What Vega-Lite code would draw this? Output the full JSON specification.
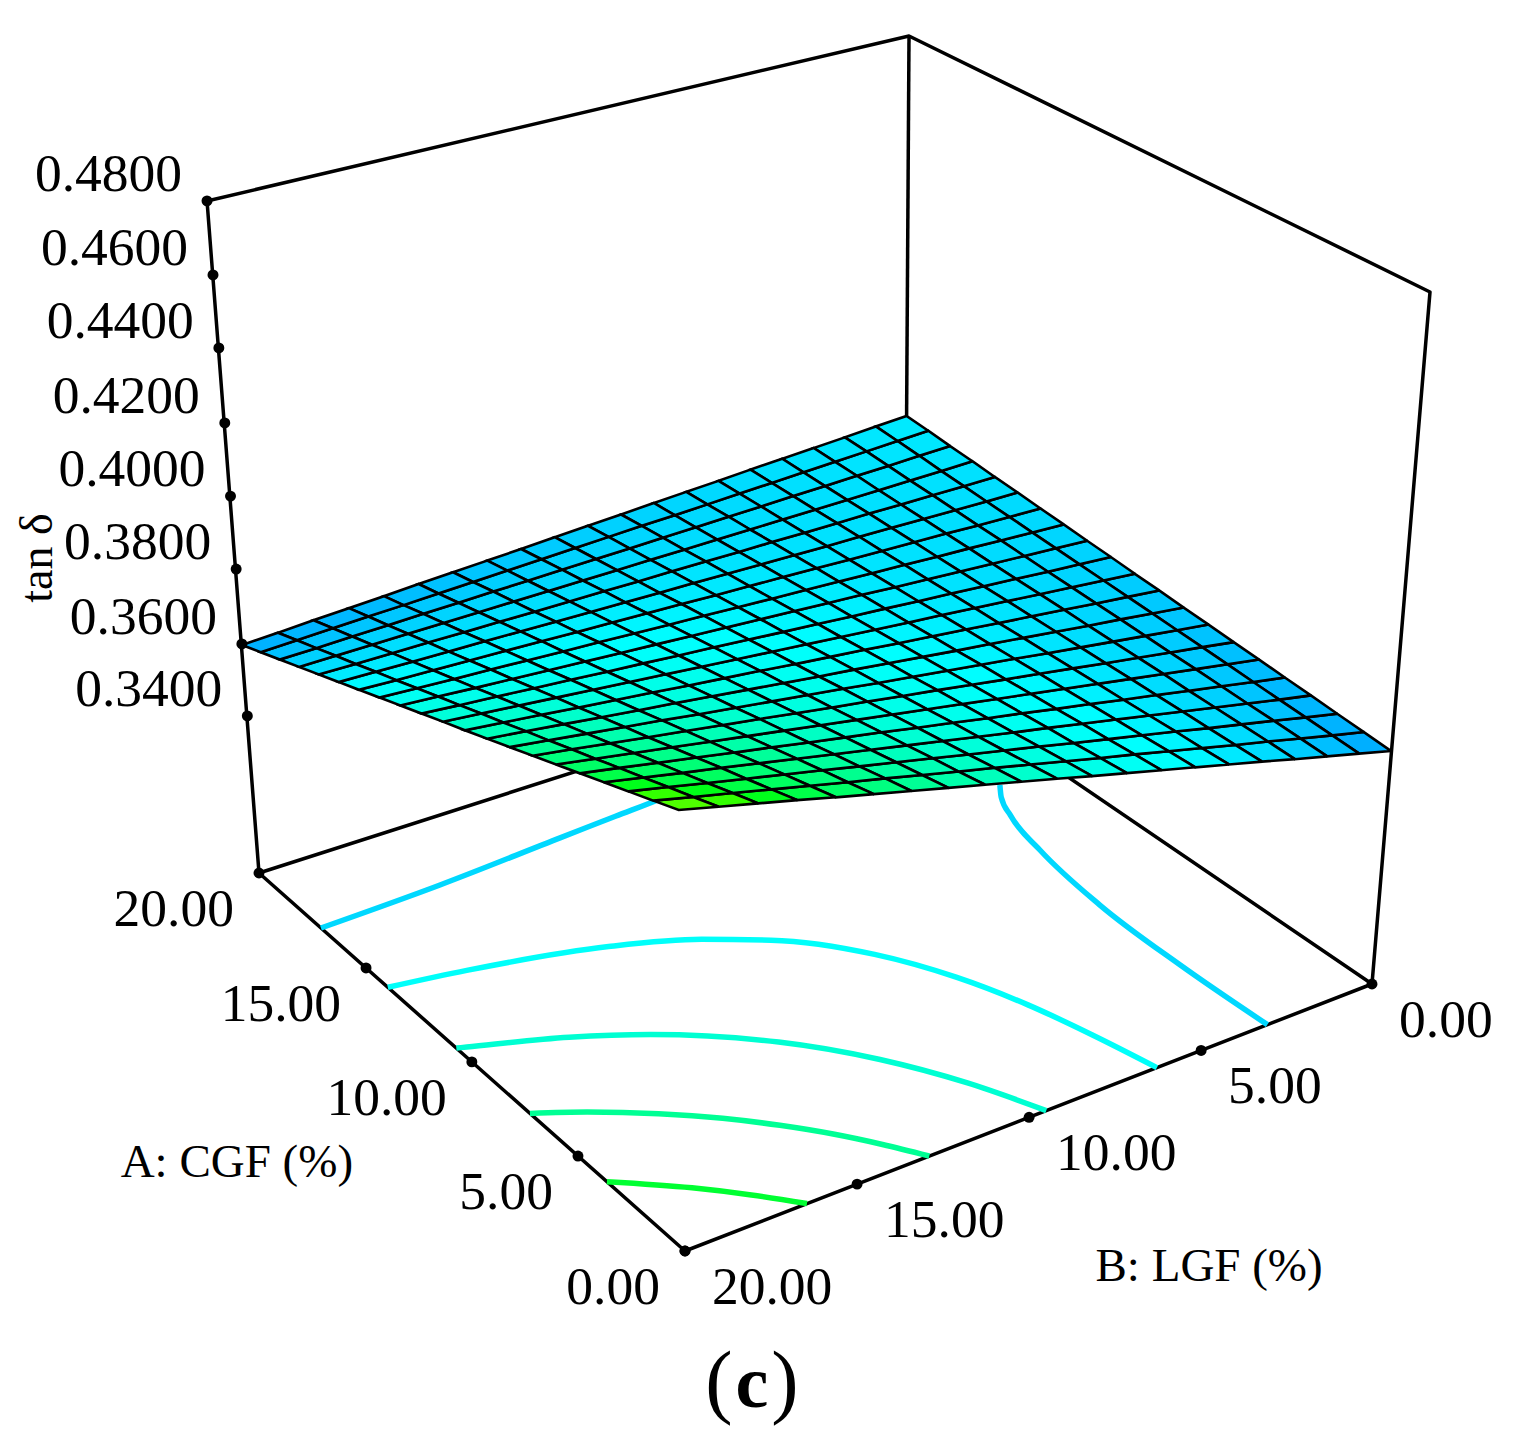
{"$schema":"https://vega.github.io/schema/vega-lite/v6.json","width":1528,"height":1451,"autosize":{"type":"fit","contains":"padding"},"padding":0,"background":"#ffffff","config":{"view":{"stroke":null},"text":{"font":"Liberation Serif"}},
"datasets":{
"frame":[{"s":"m","i":0,"A":20,"B":20,"t":0.2956},{"s":"m","i":1,"A":0,"B":20,"t":0.2956},{"s":"m","i":2,"A":0,"B":0,"t":0.2956},{"s":"m","i":3,"A":0,"B":0,"t":0.48},{"s":"m","i":4,"A":20,"B":0,"t":0.48},{"s":"m","i":5,"A":20,"B":20,"t":0.48},{"s":"m","i":6,"A":20,"B":20,"t":0.2956},{"s":"m","i":7,"A":20,"B":0,"t":0.2956},{"s":"m","i":8,"A":0,"B":0,"t":0.2956},{"s":"v","i":0,"A":20,"B":0,"t":0.2956},{"s":"v","i":1,"A":20,"B":0,"t":0.48}],
"contours":[
{"id":"c1r","t":0.367,"A":0,"B":3.3},{"id":"c1r","t":0.367,"A":3.35,"B":3.36},{"id":"c1r","t":0.367,"A":6.76,"B":3.27},{"id":"c1r","t":0.367,"A":9.82,"B":2.89},{"id":"c1r","t":0.367,"A":11.7,"B":2.46},{"id":"c1r","t":0.367,"A":12.6,"B":2.1},{"id":"c1r","t":0.367,"A":13.14,"B":1.75},
{"id":"c1l","t":0.367,"A":16.76,"B":20},{"id":"c1l","t":0.367,"A":16.92,"B":16.51},{"id":"c1l","t":0.367,"A":17.25,"B":12.77},{"id":"c1l","t":0.367,"A":17.4,"B":11},{"id":"c1l","t":0.367,"A":17.54,"B":9.4},{"id":"c1l","t":0.367,"A":17.8,"B":8},
{"id":"c2","t":0.3749,"A":0,"B":6.68},{"id":"c2","t":0.3749,"A":2,"B":7.08},{"id":"c2","t":0.3749,"A":4,"B":7.57},{"id":"c2","t":0.3749,"A":6,"B":8.27},{"id":"c2","t":0.3749,"A":8,"B":9.32},{"id":"c2","t":0.3749,"A":10,"B":11.07},{"id":"c2","t":0.3749,"A":11,"B":12.47},{"id":"c2","t":0.3749,"A":12,"B":14.56},{"id":"c2","t":0.3749,"A":13,"B":18.02},{"id":"c2","t":0.3749,"A":13.4,"B":20},
{"id":"c3","t":0.3825,"A":0,"B":9.96},{"id":"c3","t":0.3825,"A":2,"B":10.8},{"id":"c3","t":0.3825,"A":4,"B":11.93},{"id":"c3","t":0.3825,"A":6,"B":13.5},{"id":"c3","t":0.3825,"A":8,"B":15.85},{"id":"c3","t":0.3825,"A":9,"B":17.53},{"id":"c3","t":0.3825,"A":10,"B":19.77},{"id":"c3","t":0.3825,"A":10.1,"B":20},
{"id":"c4","t":0.3902,"A":0,"B":13.32},{"id":"c4","t":0.3902,"A":1,"B":13.94},{"id":"c4","t":0.3902,"A":2,"B":14.64},{"id":"c4","t":0.3902,"A":3,"B":15.46},{"id":"c4","t":0.3902,"A":4,"B":16.4},{"id":"c4","t":0.3902,"A":5,"B":17.53},{"id":"c4","t":0.3902,"A":6,"B":18.87},{"id":"c4","t":0.3902,"A":6.7,"B":20},
{"id":"c5","t":0.3981,"A":0,"B":16.72},{"id":"c5","t":0.3981,"A":1,"B":17.57},{"id":"c5","t":0.3981,"A":2,"B":18.53},{"id":"c5","t":0.3981,"A":3.3,"B":20}],
"ticks":[
{"axis":"A","label":"0.00","A":0,"B":20,"t":0.2956},{"axis":"A","label":"5.00","A":4.56,"B":20,"t":0.2956},{"axis":"A","label":"10.00","A":9.37,"B":20,"t":0.2956},{"axis":"A","label":"15.00","A":14.48,"B":20,"t":0.2956},{"axis":"A","label":"20.00","A":20,"B":20,"t":0.2956},
{"axis":"B","label":"0.00","A":0,"B":0,"t":0.2956},{"axis":"B","label":"5.00","A":0,"B":5.34,"t":0.2956},{"axis":"B","label":"10.00","A":0,"B":10.46,"t":0.2956},{"axis":"B","label":"15.00","A":0,"B":15.34,"t":0.2956},{"axis":"B","label":"20.00","A":0,"B":20,"t":0.2956},
{"axis":"z","label":"0.3400","A":20,"B":20,"t":0.34},{"axis":"z","label":"0.3600","A":20,"B":20,"t":0.3601},{"axis":"z","label":"0.3800","A":20,"B":20,"t":0.3808},{"axis":"z","label":"0.4000","A":20,"B":20,"t":0.4008},{"axis":"z","label":"0.4200","A":20,"B":20,"t":0.4207},{"axis":"z","label":"0.4400","A":20,"B":20,"t":0.4409},{"axis":"z","label":"0.4600","A":20,"B":20,"t":0.4604},{"axis":"z","label":"0.4800","A":20,"B":20,"t":0.48}],
"titles":[{"k":"A","label":"A: CGF (%)","A":9.37,"B":20,"t":0.2956},{"k":"B","label":"B: LGF (%)","A":0,"B":10.46,"t":0.2956},{"k":"z","label":"tan δ","A":20,"B":20,"t":0.4},{"k":"c","label":"c","A":0,"B":20,"t":0.2956}],
"nodes":[
{"A":0,"B":0,"t":0.3594},{"A":0,"B":1,"t":0.3617},{"A":0,"B":2,"t":0.3640},{"A":0,"B":3,"t":0.3663},{"A":0,"B":4,"t":0.3687},{"A":0,"B":5,"t":0.3710},{"A":0,"B":6,"t":0.3733},{"A":0,"B":7,"t":0.3756},{"A":0,"B":8,"t":0.3779},{"A":0,"B":9,"t":0.3802},{"A":0,"B":10,"t":0.3826},{"A":0,"B":11,"t":0.3849},{"A":0,"B":12,"t":0.3872},{"A":0,"B":13,"t":0.3895},{"A":0,"B":14,"t":0.3918},{"A":0,"B":15,"t":0.3941},{"A":0,"B":16,"t":0.3964},{"A":0,"B":17,"t":0.3988},{"A":0,"B":18,"t":0.4011},{"A":0,"B":19,"t":0.4034},{"A":0,"B":20,"t":0.4057},
{"A":1,"B":0,"t":0.3600},{"A":1,"B":1,"t":0.3621},{"A":1,"B":2,"t":0.3643},{"A":1,"B":3,"t":0.3665},{"A":1,"B":4,"t":0.3686},{"A":1,"B":5,"t":0.3708},{"A":1,"B":6,"t":0.3730},{"A":1,"B":7,"t":0.3752},{"A":1,"B":8,"t":0.3773},{"A":1,"B":9,"t":0.3795},{"A":1,"B":10,"t":0.3817},{"A":1,"B":11,"t":0.3839},{"A":1,"B":12,"t":0.3860},{"A":1,"B":13,"t":0.3882},{"A":1,"B":14,"t":0.3904},{"A":1,"B":15,"t":0.3925},{"A":1,"B":16,"t":0.3947},{"A":1,"B":17,"t":0.3969},{"A":1,"B":18,"t":0.3991},{"A":1,"B":19,"t":0.4012},{"A":1,"B":20,"t":0.4034},
{"A":2,"B":0,"t":0.3605},{"A":2,"B":1,"t":0.3625},{"A":2,"B":2,"t":0.3646},{"A":2,"B":3,"t":0.3666},{"A":2,"B":4,"t":0.3686},{"A":2,"B":5,"t":0.3707},{"A":2,"B":6,"t":0.3727},{"A":2,"B":7,"t":0.3747},{"A":2,"B":8,"t":0.3767},{"A":2,"B":9,"t":0.3788},{"A":2,"B":10,"t":0.3808},{"A":2,"B":11,"t":0.3828},{"A":2,"B":12,"t":0.3849},{"A":2,"B":13,"t":0.3869},{"A":2,"B":14,"t":0.3889},{"A":2,"B":15,"t":0.3910},{"A":2,"B":16,"t":0.3930},{"A":2,"B":17,"t":0.3950},{"A":2,"B":18,"t":0.3970},{"A":2,"B":19,"t":0.3991},{"A":2,"B":20,"t":0.4011},
{"A":3,"B":0,"t":0.3611},{"A":3,"B":1,"t":0.3629},{"A":3,"B":2,"t":0.3648},{"A":3,"B":3,"t":0.3667},{"A":3,"B":4,"t":0.3686},{"A":3,"B":5,"t":0.3705},{"A":3,"B":6,"t":0.3724},{"A":3,"B":7,"t":0.3743},{"A":3,"B":8,"t":0.3762},{"A":3,"B":9,"t":0.3780},{"A":3,"B":10,"t":0.3799},{"A":3,"B":11,"t":0.3818},{"A":3,"B":12,"t":0.3837},{"A":3,"B":13,"t":0.3856},{"A":3,"B":14,"t":0.3875},{"A":3,"B":15,"t":0.3894},{"A":3,"B":16,"t":0.3913},{"A":3,"B":17,"t":0.3932},{"A":3,"B":18,"t":0.3950},{"A":3,"B":19,"t":0.3969},{"A":3,"B":20,"t":0.3988},
{"A":4,"B":0,"t":0.3616},{"A":4,"B":1,"t":0.3633},{"A":4,"B":2,"t":0.3651},{"A":4,"B":3,"t":0.3668},{"A":4,"B":4,"t":0.3686},{"A":4,"B":5,"t":0.3703},{"A":4,"B":6,"t":0.3721},{"A":4,"B":7,"t":0.3738},{"A":4,"B":8,"t":0.3756},{"A":4,"B":9,"t":0.3773},{"A":4,"B":10,"t":0.3791},{"A":4,"B":11,"t":0.3808},{"A":4,"B":12,"t":0.3826},{"A":4,"B":13,"t":0.3843},{"A":4,"B":14,"t":0.3860},{"A":4,"B":15,"t":0.3878},{"A":4,"B":16,"t":0.3895},{"A":4,"B":17,"t":0.3913},{"A":4,"B":18,"t":0.3930},{"A":4,"B":19,"t":0.3948},{"A":4,"B":20,"t":0.3965},
{"A":5,"B":0,"t":0.3622},{"A":5,"B":1,"t":0.3638},{"A":5,"B":2,"t":0.3654},{"A":5,"B":3,"t":0.3670},{"A":5,"B":4,"t":0.3686},{"A":5,"B":5,"t":0.3702},{"A":5,"B":6,"t":0.3718},{"A":5,"B":7,"t":0.3734},{"A":5,"B":8,"t":0.3750},{"A":5,"B":9,"t":0.3766},{"A":5,"B":10,"t":0.3782},{"A":5,"B":11,"t":0.3798},{"A":5,"B":12,"t":0.3814},{"A":5,"B":13,"t":0.3830},{"A":5,"B":14,"t":0.3846},{"A":5,"B":15,"t":0.3862},{"A":5,"B":16,"t":0.3878},{"A":5,"B":17,"t":0.3894},{"A":5,"B":18,"t":0.3910},{"A":5,"B":19,"t":0.3926},{"A":5,"B":20,"t":0.3942},
{"A":6,"B":0,"t":0.3627},{"A":6,"B":1,"t":0.3642},{"A":6,"B":2,"t":0.3656},{"A":6,"B":3,"t":0.3671},{"A":6,"B":4,"t":0.3685},{"A":6,"B":5,"t":0.3700},{"A":6,"B":6,"t":0.3715},{"A":6,"B":7,"t":0.3729},{"A":6,"B":8,"t":0.3744},{"A":6,"B":9,"t":0.3759},{"A":6,"B":10,"t":0.3773},{"A":6,"B":11,"t":0.3788},{"A":6,"B":12,"t":0.3802},{"A":6,"B":13,"t":0.3817},{"A":6,"B":14,"t":0.3832},{"A":6,"B":15,"t":0.3846},{"A":6,"B":16,"t":0.3861},{"A":6,"B":17,"t":0.3875},{"A":6,"B":18,"t":0.3890},{"A":6,"B":19,"t":0.3905},{"A":6,"B":20,"t":0.3919},
{"A":7,"B":0,"t":0.3633},{"A":7,"B":1,"t":0.3646},{"A":7,"B":2,"t":0.3659},{"A":7,"B":3,"t":0.3672},{"A":7,"B":4,"t":0.3685},{"A":7,"B":5,"t":0.3698},{"A":7,"B":6,"t":0.3712},{"A":7,"B":7,"t":0.3725},{"A":7,"B":8,"t":0.3738},{"A":7,"B":9,"t":0.3751},{"A":7,"B":10,"t":0.3764},{"A":7,"B":11,"t":0.3778},{"A":7,"B":12,"t":0.3791},{"A":7,"B":13,"t":0.3804},{"A":7,"B":14,"t":0.3817},{"A":7,"B":15,"t":0.3830},{"A":7,"B":16,"t":0.3844},{"A":7,"B":17,"t":0.3857},{"A":7,"B":18,"t":0.3870},{"A":7,"B":19,"t":0.3883},{"A":7,"B":20,"t":0.3896},
{"A":8,"B":0,"t":0.3638},{"A":8,"B":1,"t":0.3650},{"A":8,"B":2,"t":0.3662},{"A":8,"B":3,"t":0.3673},{"A":8,"B":4,"t":0.3685},{"A":8,"B":5,"t":0.3697},{"A":8,"B":6,"t":0.3709},{"A":8,"B":7,"t":0.3720},{"A":8,"B":8,"t":0.3732},{"A":8,"B":9,"t":0.3744},{"A":8,"B":10,"t":0.3756},{"A":8,"B":11,"t":0.3767},{"A":8,"B":12,"t":0.3779},{"A":8,"B":13,"t":0.3791},{"A":8,"B":14,"t":0.3803},{"A":8,"B":15,"t":0.3815},{"A":8,"B":16,"t":0.3826},{"A":8,"B":17,"t":0.3838},{"A":8,"B":18,"t":0.3850},{"A":8,"B":19,"t":0.3862},{"A":8,"B":20,"t":0.3873},
{"A":9,"B":0,"t":0.3644},{"A":9,"B":1,"t":0.3654},{"A":9,"B":2,"t":0.3664},{"A":9,"B":3,"t":0.3675},{"A":9,"B":4,"t":0.3685},{"A":9,"B":5,"t":0.3695},{"A":9,"B":6,"t":0.3706},{"A":9,"B":7,"t":0.3716},{"A":9,"B":8,"t":0.3726},{"A":9,"B":9,"t":0.3737},{"A":9,"B":10,"t":0.3747},{"A":9,"B":11,"t":0.3757},{"A":9,"B":12,"t":0.3768},{"A":9,"B":13,"t":0.3778},{"A":9,"B":14,"t":0.3788},{"A":9,"B":15,"t":0.3799},{"A":9,"B":16,"t":0.3809},{"A":9,"B":17,"t":0.3819},{"A":9,"B":18,"t":0.3830},{"A":9,"B":19,"t":0.3840},{"A":9,"B":20,"t":0.3850},
{"A":10,"B":0,"t":0.3649},{"A":10,"B":1,"t":0.3658},{"A":10,"B":2,"t":0.3667},{"A":10,"B":3,"t":0.3676},{"A":10,"B":4,"t":0.3685},{"A":10,"B":5,"t":0.3694},{"A":10,"B":6,"t":0.3703},{"A":10,"B":7,"t":0.3711},{"A":10,"B":8,"t":0.3720},{"A":10,"B":9,"t":0.3729},{"A":10,"B":10,"t":0.3738},{"A":10,"B":11,"t":0.3747},{"A":10,"B":12,"t":0.3756},{"A":10,"B":13,"t":0.3765},{"A":10,"B":14,"t":0.3774},{"A":10,"B":15,"t":0.3783},{"A":10,"B":16,"t":0.3792},{"A":10,"B":17,"t":0.3801},{"A":10,"B":18,"t":0.3810},{"A":10,"B":19,"t":0.3819},{"A":10,"B":20,"t":0.3828},
{"A":11,"B":0,"t":0.3655},{"A":11,"B":1,"t":0.3662},{"A":11,"B":2,"t":0.3669},{"A":11,"B":3,"t":0.3677},{"A":11,"B":4,"t":0.3684},{"A":11,"B":5,"t":0.3692},{"A":11,"B":6,"t":0.3699},{"A":11,"B":7,"t":0.3707},{"A":11,"B":8,"t":0.3714},{"A":11,"B":9,"t":0.3722},{"A":11,"B":10,"t":0.3729},{"A":11,"B":11,"t":0.3737},{"A":11,"B":12,"t":0.3745},{"A":11,"B":13,"t":0.3752},{"A":11,"B":14,"t":0.3760},{"A":11,"B":15,"t":0.3767},{"A":11,"B":16,"t":0.3775},{"A":11,"B":17,"t":0.3782},{"A":11,"B":18,"t":0.3790},{"A":11,"B":19,"t":0.3797},{"A":11,"B":20,"t":0.3805},
{"A":12,"B":0,"t":0.3660},{"A":12,"B":1,"t":0.3666},{"A":12,"B":2,"t":0.3672},{"A":12,"B":3,"t":0.3678},{"A":12,"B":4,"t":0.3684},{"A":12,"B":5,"t":0.3690},{"A":12,"B":6,"t":0.3696},{"A":12,"B":7,"t":0.3703},{"A":12,"B":8,"t":0.3709},{"A":12,"B":9,"t":0.3715},{"A":12,"B":10,"t":0.3721},{"A":12,"B":11,"t":0.3727},{"A":12,"B":12,"t":0.3733},{"A":12,"B":13,"t":0.3739},{"A":12,"B":14,"t":0.3745},{"A":12,"B":15,"t":0.3751},{"A":12,"B":16,"t":0.3757},{"A":12,"B":17,"t":0.3763},{"A":12,"B":18,"t":0.3769},{"A":12,"B":19,"t":0.3776},{"A":12,"B":20,"t":0.3782},
{"A":13,"B":0,"t":0.3666},{"A":13,"B":1,"t":0.3670},{"A":13,"B":2,"t":0.3675},{"A":13,"B":3,"t":0.3680},{"A":13,"B":4,"t":0.3684},{"A":13,"B":5,"t":0.3689},{"A":13,"B":6,"t":0.3693},{"A":13,"B":7,"t":0.3698},{"A":13,"B":8,"t":0.3703},{"A":13,"B":9,"t":0.3707},{"A":13,"B":10,"t":0.3712},{"A":13,"B":11,"t":0.3717},{"A":13,"B":12,"t":0.3721},{"A":13,"B":13,"t":0.3726},{"A":13,"B":14,"t":0.3731},{"A":13,"B":15,"t":0.3735},{"A":13,"B":16,"t":0.3740},{"A":13,"B":17,"t":0.3745},{"A":13,"B":18,"t":0.3749},{"A":13,"B":19,"t":0.3754},{"A":13,"B":20,"t":0.3759},
{"A":14,"B":0,"t":0.3671},{"A":14,"B":1,"t":0.3674},{"A":14,"B":2,"t":0.3677},{"A":14,"B":3,"t":0.3681},{"A":14,"B":4,"t":0.3684},{"A":14,"B":5,"t":0.3687},{"A":14,"B":6,"t":0.3690},{"A":14,"B":7,"t":0.3694},{"A":14,"B":8,"t":0.3697},{"A":14,"B":9,"t":0.3700},{"A":14,"B":10,"t":0.3703},{"A":14,"B":11,"t":0.3707},{"A":14,"B":12,"t":0.3710},{"A":14,"B":13,"t":0.3713},{"A":14,"B":14,"t":0.3716},{"A":14,"B":15,"t":0.3720},{"A":14,"B":16,"t":0.3723},{"A":14,"B":17,"t":0.3726},{"A":14,"B":18,"t":0.3729},{"A":14,"B":19,"t":0.3732},{"A":14,"B":20,"t":0.3736},
{"A":15,"B":0,"t":0.3677},{"A":15,"B":1,"t":0.3678},{"A":15,"B":2,"t":0.3680},{"A":15,"B":3,"t":0.3682},{"A":15,"B":4,"t":0.3684},{"A":15,"B":5,"t":0.3686},{"A":15,"B":6,"t":0.3687},{"A":15,"B":7,"t":0.3689},{"A":15,"B":8,"t":0.3691},{"A":15,"B":9,"t":0.3693},{"A":15,"B":10,"t":0.3695},{"A":15,"B":11,"t":0.3696},{"A":15,"B":12,"t":0.3698},{"A":15,"B":13,"t":0.3700},{"A":15,"B":14,"t":0.3702},{"A":15,"B":15,"t":0.3704},{"A":15,"B":16,"t":0.3706},{"A":15,"B":17,"t":0.3707},{"A":15,"B":18,"t":0.3709},{"A":15,"B":19,"t":0.3711},{"A":15,"B":20,"t":0.3713},
{"A":16,"B":0,"t":0.3682},{"A":16,"B":1,"t":0.3682},{"A":16,"B":2,"t":0.3683},{"A":16,"B":3,"t":0.3683},{"A":16,"B":4,"t":0.3684},{"A":16,"B":5,"t":0.3684},{"A":16,"B":6,"t":0.3684},{"A":16,"B":7,"t":0.3685},{"A":16,"B":8,"t":0.3685},{"A":16,"B":9,"t":0.3686},{"A":16,"B":10,"t":0.3686},{"A":16,"B":11,"t":0.3686},{"A":16,"B":12,"t":0.3687},{"A":16,"B":13,"t":0.3687},{"A":16,"B":14,"t":0.3687},{"A":16,"B":15,"t":0.3688},{"A":16,"B":16,"t":0.3688},{"A":16,"B":17,"t":0.3689},{"A":16,"B":18,"t":0.3689},{"A":16,"B":19,"t":0.3689},{"A":16,"B":20,"t":0.3690},
{"A":17,"B":0,"t":0.3688},{"A":17,"B":1,"t":0.3686},{"A":17,"B":2,"t":0.3685},{"A":17,"B":3,"t":0.3684},{"A":17,"B":4,"t":0.3683},{"A":17,"B":5,"t":0.3682},{"A":17,"B":6,"t":0.3681},{"A":17,"B":7,"t":0.3680},{"A":17,"B":8,"t":0.3679},{"A":17,"B":9,"t":0.3678},{"A":17,"B":10,"t":0.3677},{"A":17,"B":11,"t":0.3676},{"A":17,"B":12,"t":0.3675},{"A":17,"B":13,"t":0.3674},{"A":17,"B":14,"t":0.3673},{"A":17,"B":15,"t":0.3672},{"A":17,"B":16,"t":0.3671},{"A":17,"B":17,"t":0.3670},{"A":17,"B":18,"t":0.3669},{"A":17,"B":19,"t":0.3668},{"A":17,"B":20,"t":0.3667},
{"A":18,"B":0,"t":0.3693},{"A":18,"B":1,"t":0.3691},{"A":18,"B":2,"t":0.3688},{"A":18,"B":3,"t":0.3686},{"A":18,"B":4,"t":0.3683},{"A":18,"B":5,"t":0.3681},{"A":18,"B":6,"t":0.3678},{"A":18,"B":7,"t":0.3676},{"A":18,"B":8,"t":0.3673},{"A":18,"B":9,"t":0.3671},{"A":18,"B":10,"t":0.3668},{"A":18,"B":11,"t":0.3666},{"A":18,"B":12,"t":0.3664},{"A":18,"B":13,"t":0.3661},{"A":18,"B":14,"t":0.3659},{"A":18,"B":15,"t":0.3656},{"A":18,"B":16,"t":0.3654},{"A":18,"B":17,"t":0.3651},{"A":18,"B":18,"t":0.3649},{"A":18,"B":19,"t":0.3646},{"A":18,"B":20,"t":0.3644},
{"A":19,"B":0,"t":0.3699},{"A":19,"B":1,"t":0.3695},{"A":19,"B":2,"t":0.3691},{"A":19,"B":3,"t":0.3687},{"A":19,"B":4,"t":0.3683},{"A":19,"B":5,"t":0.3679},{"A":19,"B":6,"t":0.3675},{"A":19,"B":7,"t":0.3671},{"A":19,"B":8,"t":0.3667},{"A":19,"B":9,"t":0.3664},{"A":19,"B":10,"t":0.3660},{"A":19,"B":11,"t":0.3656},{"A":19,"B":12,"t":0.3652},{"A":19,"B":13,"t":0.3648},{"A":19,"B":14,"t":0.3644},{"A":19,"B":15,"t":0.3640},{"A":19,"B":16,"t":0.3636},{"A":19,"B":17,"t":0.3633},{"A":19,"B":18,"t":0.3629},{"A":19,"B":19,"t":0.3625},{"A":19,"B":20,"t":0.3621},
{"A":20,"B":0,"t":0.3704},{"A":20,"B":1,"t":0.3699},{"A":20,"B":2,"t":0.3693},{"A":20,"B":3,"t":0.3688},{"A":20,"B":4,"t":0.3683},{"A":20,"B":5,"t":0.3678},{"A":20,"B":6,"t":0.3672},{"A":20,"B":7,"t":0.3667},{"A":20,"B":8,"t":0.3662},{"A":20,"B":9,"t":0.3656},{"A":20,"B":10,"t":0.3651},{"A":20,"B":11,"t":0.3646},{"A":20,"B":12,"t":0.3640},{"A":20,"B":13,"t":0.3635},{"A":20,"B":14,"t":0.3630},{"A":20,"B":15,"t":0.3625},{"A":20,"B":16,"t":0.3619},{"A":20,"B":17,"t":0.3614},{"A":20,"B":18,"t":0.3609},{"A":20,"B":19,"t":0.3603},{"A":20,"B":20,"t":0.3598}]},
"transform":[],
"encoding":{"x":{"field":"X","type":"quantitative","scale":{"domain":[0,1528],"nice":false,"zero":false},"axis":null},"y":{"field":"Y","type":"quantitative","scale":{"domain":[1451,0],"nice":false,"zero":false},"axis":null}},
"layer":[
{"data":{"name":"frame"},"transform":[{"calculate":"datum.A/20","as":"a"},{"calculate":"datum.B/20","as":"b"},{"calculate":"(datum.t-0.2956)/0.1844","as":"c"},{"calculate":"(1372-355.21*datum.a-749.39*datum.b+datum.c*(-70.7-6.6*datum.a+5*datum.a*datum.b))/(1+0.12353*datum.a-0.09108*datum.b-0.09*datum.c)","as":"X"},{"calculate":"(984-235.73*datum.a+153.06*datum.b+datum.c*(-703.7-5.6*datum.a+7.4*datum.a*datum.b))/(1+0.12353*datum.a-0.09108*datum.b-0.04*datum.c)","as":"Y"}],"mark":{"type":"line","stroke":"#000000","strokeWidth":3.5,"strokeJoin":"round"},"encoding":{"detail":{"field":"s"},"order":{"field":"i","type":"quantitative"}}},
{"data":{"name":"contours"},"transform":[{"calculate":"datum.A/20","as":"a"},{"calculate":"datum.B/20","as":"b"},{"calculate":"(1372-355.21*datum.a-749.39*datum.b)/(1+0.12353*datum.a-0.09108*datum.b)","as":"X"},{"calculate":"(984-235.73*datum.a+153.06*datum.b)/(1+0.12353*datum.a-0.09108*datum.b)","as":"Y"}],"mark":{"type":"line","strokeWidth":5.5,"interpolate":"monotone"},"encoding":{"detail":{"field":"id"},"stroke":{"field":"t","type":"quantitative","legend":null,"scale":{"domain":[0.3545,0.3735,0.3995,0.41],"range":["#0080ff","#00ffff","#00ff00","#80ff00"]}}}},
{"data":{"name":"nodes"},"transform":[{"window":[{"op":"lead","field":"t","as":"tB"}],"groupby":["A"],"sort":[{"field":"B","order":"ascending"}]},{"window":[{"op":"lead","field":"t","as":"tA"},{"op":"lead","field":"tB","as":"tAB"}],"groupby":["B"],"sort":[{"field":"A","order":"ascending"}]},{"filter":"datum.A<20&&datum.B<20"},{"calculate":"(datum.t+datum.tA+datum.tB+datum.tAB)/4","as":"m"},{"calculate":"datum.A*100+datum.B","as":"cell"},{"calculate":"[0,1,2,3,4]","as":"i"},{"flatten":["i"]},{"calculate":"(datum.i==1||datum.i==2?datum.A+1:datum.A)/20","as":"a"},{"calculate":"(datum.i==2||datum.i==3?datum.B+1:datum.B)/20","as":"b"},{"calculate":"((datum.i==1?datum.tA:datum.i==2?datum.tAB:datum.i==3?datum.tB:datum.t)-0.2956)/0.1844","as":"c"},{"calculate":"(1372-355.21*datum.a-749.39*datum.b+datum.c*(-70.7-6.6*datum.a+5*datum.a*datum.b))/(1+0.12353*datum.a-0.09108*datum.b-0.09*datum.c)","as":"X"},{"calculate":"(984-235.73*datum.a+153.06*datum.b+datum.c*(-703.7-5.6*datum.a+7.4*datum.a*datum.b))/(1+0.12353*datum.a-0.09108*datum.b-0.04*datum.c)","as":"Y"}],"mark":{"type":"line","stroke":"#000000","strokeWidth":2.6},"encoding":{"detail":{"field":"cell"},"order":{"field":"i","type":"quantitative"},"fill":{"field":"m","type":"quantitative","legend":null,"scale":{"domain":[0.3545,0.3735,0.3995,0.41],"range":["#0080ff","#00ffff","#00ff00","#80ff00"]}}}},
{"data":{"name":"ticks"},"transform":[{"calculate":"datum.A/20","as":"a"},{"calculate":"datum.B/20","as":"b"},{"calculate":"(datum.t-0.2956)/0.1844","as":"c"},{"calculate":"(1372-355.21*datum.a-749.39*datum.b+datum.c*(-70.7-6.6*datum.a+5*datum.a*datum.b))/(1+0.12353*datum.a-0.09108*datum.b-0.09*datum.c)","as":"X"},{"calculate":"(984-235.73*datum.a+153.06*datum.b+datum.c*(-703.7-5.6*datum.a+7.4*datum.a*datum.b))/(1+0.12353*datum.a-0.09108*datum.b-0.04*datum.c)","as":"Y"}],
"layer":[
{"mark":{"type":"point","filled":true,"color":"#000000","size":120,"opacity":1}},
{"transform":[{"filter":"datum.axis=='A'"}],"mark":{"type":"text","fontSize":53.5,"align":"right","baseline":"middle","dx":-25,"dy":37,"color":"#000000"},"encoding":{"text":{"field":"label"}}},
{"transform":[{"filter":"datum.axis=='B'"}],"mark":{"type":"text","fontSize":53.5,"align":"left","baseline":"middle","dx":27,"dy":37,"color":"#000000"},"encoding":{"text":{"field":"label"}}},
{"transform":[{"filter":"datum.axis=='z'"}],"mark":{"type":"text","fontSize":53.5,"align":"right","baseline":"middle","dx":-25,"dy":-26,"color":"#000000"},"encoding":{"text":{"field":"label"}}}]},
{"data":{"name":"titles"},"transform":[{"calculate":"datum.A/20","as":"a"},{"calculate":"datum.B/20","as":"b"},{"calculate":"(datum.t-0.2956)/0.1844","as":"c"},{"calculate":"(1372-355.21*datum.a-749.39*datum.b+datum.c*(-70.7-6.6*datum.a+5*datum.a*datum.b))/(1+0.12353*datum.a-0.09108*datum.b-0.09*datum.c)","as":"X"},{"calculate":"(984-235.73*datum.a+153.06*datum.b+datum.c*(-703.7-5.6*datum.a+7.4*datum.a*datum.b))/(1+0.12353*datum.a-0.09108*datum.b-0.04*datum.c)","as":"Y"}],
"layer":[
{"transform":[{"filter":"datum.k=='A'"}],"mark":{"type":"text","fontSize":47,"align":"center","baseline":"middle","dx":-235,"dy":101,"color":"#000000"},"encoding":{"text":{"field":"label"}}},
{"transform":[{"filter":"datum.k=='B'"}],"mark":{"type":"text","fontSize":47,"align":"center","baseline":"middle","dx":180,"dy":150,"color":"#000000"},"encoding":{"text":{"field":"label"}}},
{"transform":[{"filter":"datum.k=='z'"}],"mark":{"type":"text","fontSize":46,"align":"center","baseline":"middle","angle":270,"dx":-59,"dy":-193,"color":"#000000"},"encoding":{"text":{"field":"label"}}},
{"transform":[{"filter":"datum.k=='c'"}],"mark":{"type":"text","fontSize":74,"fontWeight":"bold","align":"center","baseline":"middle","dx":67,"dy":134,"color":"#000000"},"encoding":{"text":{"field":"label"}}},
{"transform":[{"filter":"datum.k=='c'"}],"mark":{"type":"text","fontSize":82,"align":"center","baseline":"middle","dx":34,"dy":132,"color":"#000000","text":"("}},
{"transform":[{"filter":"datum.k=='c'"}],"mark":{"type":"text","fontSize":82,"align":"center","baseline":"middle","dx":100,"dy":132,"color":"#000000","text":")"}}]}
]}
